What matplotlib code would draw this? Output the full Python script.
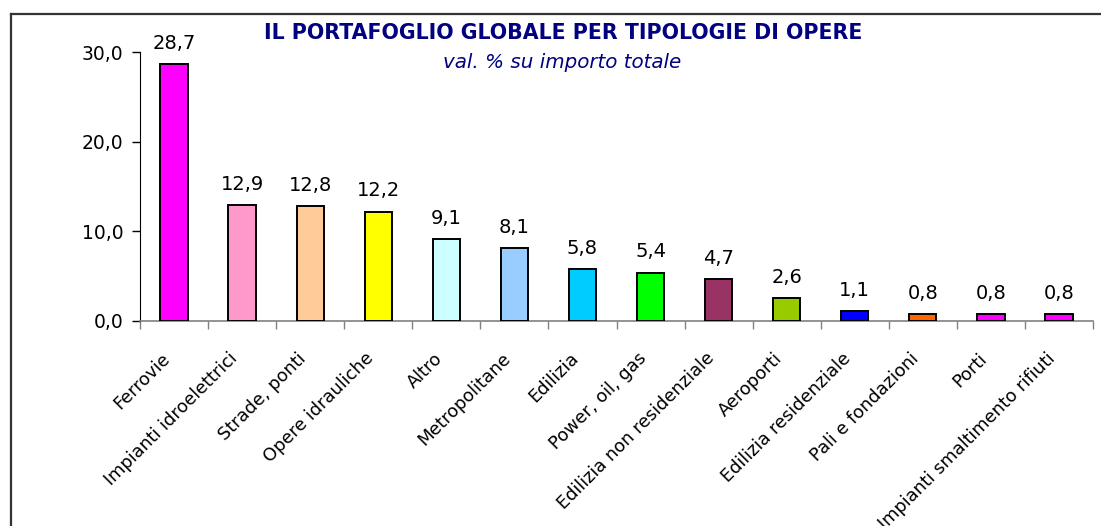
import matplotlib
matplotlib.use("Agg")
import matplotlib.pyplot as plt
from matplotlib.lines import Line2D

categories = [
    "Ferrovie", "Impianti idroelettrici", "Strade, ponti", "Opere idrauliche",
    "Altro", "Metropolitane", "Edilizia", "Power, oil, gas",
    "Edilizia non residenziale", "Aeroporti", "Edilizia residenziale",
    "Pali e fondazioni", "Porti", "Impianti smaltimento rifiuti",
]
values = [28.7, 12.9, 12.8, 12.2, 9.1, 8.1, 5.8, 5.4, 4.7, 2.6, 1.1, 0.8, 0.8, 0.8]
colors = [
    "#FF00FF", "#FF99CC", "#FFCC99", "#FFFF00", "#CCFFFF", "#99CCFF", "#00CCFF",
    "#00FF00", "#993366", "#99CC00", "#0000FF", "#FF6600", "#FF00FF", "#FF00FF",
]
yticks = [0, 10, 20, 30]

title = "IL PORTAFOGLIO GLOBALE PER TIPOLOGIE DI OPERE"
subtitle = "val. % su importo totale"

W, H = 1101, 526
fig = plt.figure(figsize=(W / 100, H / 100), dpi=100)
fig.patch.set_facecolor("white")

ax = fig.add_axes([140 / W, 1 - 321 / H, (1093 - 140) / W, (321 - 52) / H])

x = list(range(len(categories)))
ax.bar(x, values, width=0.4, color=colors, edgecolor="black", linewidth=1.4, zorder=3)

for xi, v in zip(x, values):
    ax.annotate(f"{v:.1f}".replace(".", ","), (xi, v), xytext=(0, 8),
                textcoords="offset points", ha="center", va="bottom",
                fontsize=14, color="black")

ax.set_xlim(-0.5, len(categories) - 0.5)
ax.set_ylim(0, 30)
ax.set_yticks(yticks)
ax.set_yticklabels([f"{t:.1f}".replace(".", ",") for t in yticks], fontsize=13.5)
ax.tick_params(axis="y", direction="out", length=6, width=1, pad=6, colors="black")

# category boundary ticks on x axis
ax.set_xticks([i - 0.5 for i in range(len(categories) + 1)])
ax.set_xticklabels([])
ax.tick_params(axis="x", direction="out", length=6, width=1, color="#808080")
for xi, lab in zip(x, categories):
    ax.annotate(lab, (xi, 0), xytext=(-5, -25), textcoords="offset points",
                rotation=45, rotation_mode="anchor", ha="right", va="center",
                fontsize=12.8, annotation_clip=False)

for s in ["top", "right"]:
    ax.spines[s].set_visible(False)
ax.spines["left"].set_color("black")
ax.spines["bottom"].set_color("#808080")
ax.spines["bottom"].set_linewidth(1.2)

fig.text(563 / W, 1 - 33 / H, title, ha="center", va="center", fontsize=14.8,
         fontweight="bold", color="#000080")
fig.text(562 / W, 1 - 63 / H, subtitle, ha="center", va="center", fontsize=14.3,
         style="italic", color="#000080")

# outer frame (clipped by the image at right and bottom)
fig.add_artist(Line2D([11 / W, 1], [1 - 14 / H, 1 - 14 / H], color="#333333", linewidth=1.6))
fig.add_artist(Line2D([11 / W, 11 / W], [0, 1 - 14 / H], color="#333333", linewidth=1.6))

fig.savefig("out.png", dpi=100, facecolor="white")
